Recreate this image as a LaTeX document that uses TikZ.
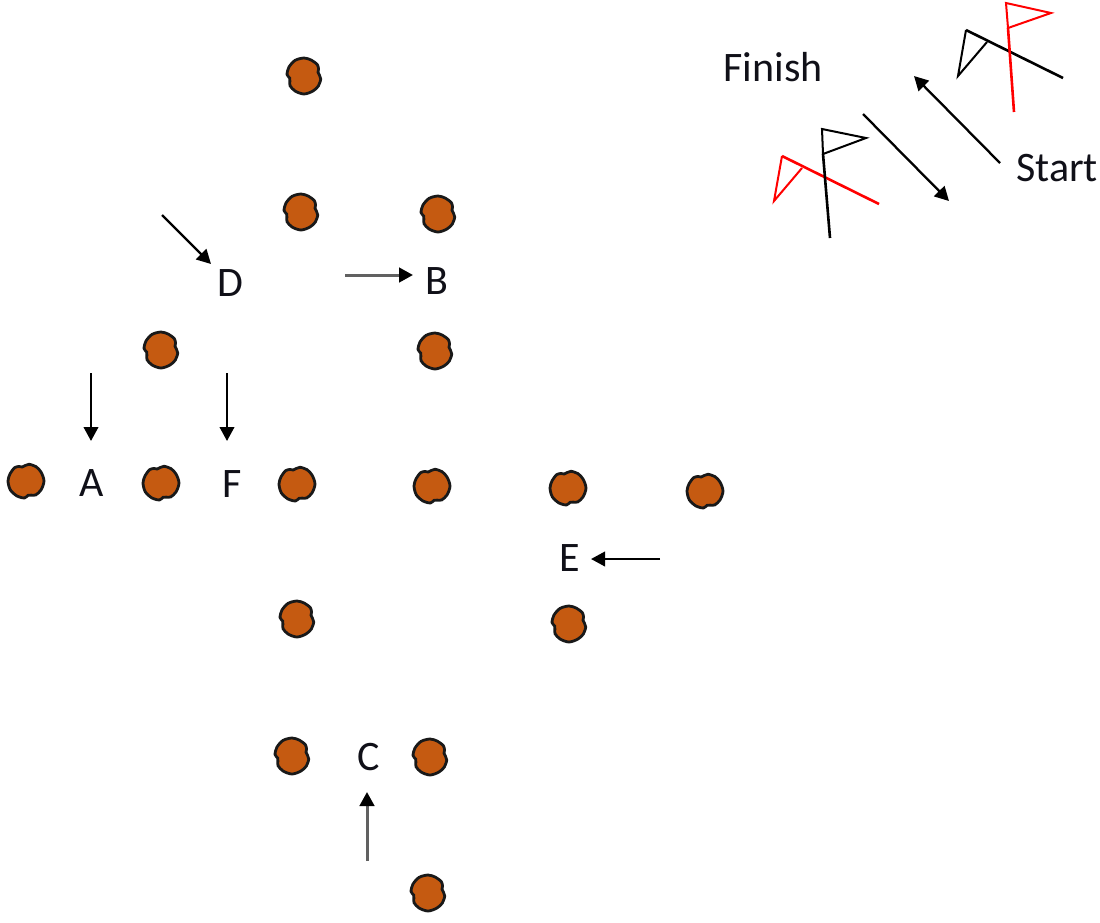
\documentclass[tikz,border=0pt]{standalone}
\usepackage{fontspec}
\setmainfont{Carlito}
\usetikzlibrary{arrows.meta}
\definecolor{rockfill}{HTML}{C55A11}
\definecolor{flagred}{HTML}{FF0000}
\definecolor{inkdark}{HTML}{101018}
\tikzset{
  x=1pt,y=-1pt,
  lab/.style={font=\fontsize{42}{42}\selectfont,text=inkdark,inner sep=0pt,anchor=center},
  arrowline/.style={draw=black,line width=2.3pt,-{Triangle[length=14pt,width=14.5pt]}},
  softarrow/.style={draw=black!62,line width=3pt,-{Triangle[length=14pt,width=14.5pt,color=black,fill=black]}},
  pole/.style={line width=2.6pt,line cap=butt},
  pennant/.style={line width=2pt,line join=miter},
  rock/.pic={
    \draw[fill=rockfill,draw=black!90,line width=2.8pt,rotate=#1]
      plot[smooth cycle,tension=0.5] coordinates {
        (10:17) (35:17.5) (60:17.5) (90:18) (120:17.5) (145:17) (160:15)
        (172:14.5) (185:17) (210:17.5) (240:18) (270:18) (295:17.5) (320:17.5)
        (335:16) (345:14.5) (357:15.5)};
  },
  rock/.default=0
}
\begin{document}
\begin{tikzpicture}
\useasboundingbox (0,0) rectangle (1100,922);
% rocks
\pic at (304,76) {rock=0};
\pic at (301,212) {rock=0};
\pic at (438,214) {rock=0};
\pic at (161,350) {rock=0};
\pic at (435,351) {rock=0};
\pic at (26,481) {rock=90};
\pic at (161,483) {rock=90};
\pic at (297,484) {rock=90};
\pic at (432,486) {rock=90};
\pic at (568,488) {rock=90};
\pic at (705,491) {rock=90};
\pic at (297,619) {rock=0};
\pic at (569,624) {rock=0};
\pic at (292,756) {rock=0};
\pic at (430,757) {rock=0};
\pic at (428,893) {rock=0};
% letters
\node[lab] (A) at (92,483) {A};
\node[lab] (F) at (232,484) {F};
\node[lab] (D) at (230,283) {D};
\node[lab] (B) at (437,281) {B};
\node[lab] (E) at (570,558) {E};
\node[lab] (C) at (369,757) {C};
\node[lab] (finish) at (773,67) {Finish};
\node[lab] (start) at (1057,168) {Start};
% arrow ends
\coordinate (a1) at (91,373);  \coordinate (a2) at (91,441);
\coordinate (f1) at (227,373); \coordinate (f2) at (227,441);
\coordinate (d1) at (162,215); \coordinate (d2) at (211,264);
\coordinate (b1) at (345,275); \coordinate (b2) at (413,275);
\coordinate (e1) at (660,559); \coordinate (e2) at (591,559);
\coordinate (c1) at (367,861); \coordinate (c2) at (367,792);
\coordinate (s1) at (1000,163); \coordinate (s2) at (914,76);
\coordinate (n1) at (863,114); \coordinate (n2) at (949,201);
\draw[arrowline] (a1) -- (a2);
\draw[arrowline] (f1) -- (f2);
\draw[arrowline] (d1) -- (d2);
\draw[softarrow] (b1) -- (b2);
\draw[arrowline] (e1) -- (e2);
\draw[softarrow] (c1) -- (c2);
\draw[arrowline] (s1) -- (s2);
\draw[arrowline] (n1) -- (n2);
% upper flags
\draw[pennant,black] (987,42) -- (958,76) -- (966,30);
\draw[pole,black] (966,30) -- (1063,78);
\draw[pole,flagred] (1014,112) -- (1008,28);
\draw[pennant,flagred] (1008,28) -- (1051,13) -- (1006,3) -- (1008,28);
% lower flags
\draw[pennant,flagred] (802,168) -- (774,201) -- (782,156);
\draw[pole,flagred] (782,156) -- (879,204);
\draw[pole,black] (830,238) -- (823,154);
\draw[pennant,black] (823,154) -- (866,138) -- (822,129) -- (823,154);
\end{tikzpicture}
\end{document}
